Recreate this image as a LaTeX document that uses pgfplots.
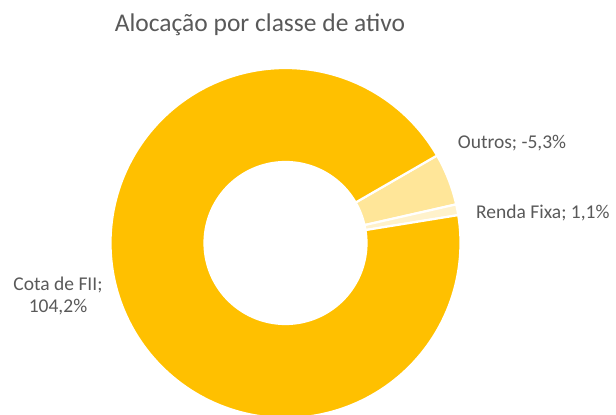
\documentclass[border=0pt]{standalone}
\usepackage{fontspec}
\setmainfont{Carlito}
\usepackage{pgfplots}
\pgfplotsset{compat=1.18}
\definecolor{gold}{HTML}{FFC000}
\definecolor{light}{HTML}{FFE699}
\definecolor{pale}{HTML}{FFF2CC}
\definecolor{txt}{HTML}{595959}
% values shown in the labels (percent)
\def\vCota{104.2}
\def\vOutros{5.3}
\def\vRenda{1.1}
\def\cx{285.5}
\def\cy{172}
\def\Ro{175}
\def\Ri{81}
\pgfmathsetmacro\tot{\vCota+\vOutros+\vRenda}
\pgfmathsetmacro\aA{30}
\pgfmathsetmacro\aB{\aA-360*(\vOutros/\tot)}
\pgfmathsetmacro\aC{\aB-360*(\vRenda/\tot)}
\pgfmathsetmacro\aD{\aC-360*(\vCota/\tot)}
\newcommand\slice[3]{%
  \addplot[fill=#3, draw=white, line width=2.2pt, line join=round, domain=0:2, samples=401, variable=\t]
  ({\cx+ifthenelse(\t<1,\Ro,\Ri)*cos(ifthenelse(\t<1, #1+(#2-#1)*min(\t/0.95,1), #2-(#2-#1)*max((\t-1.05)/0.95,0)))},
   {\cy+ifthenelse(\t<1,\Ro,\Ri)*sin(ifthenelse(\t<1, #1+(#2-#1)*min(\t/0.95,1), #2-(#2-#1)*max((\t-1.05)/0.95,0)))}) -- cycle;
}
\begin{document}
\begin{tikzpicture}
\begin{axis}[
  x=1pt, y=1pt, xmin=0, xmax=616, ymin=0, ymax=415,
  hide axis, clip=true, enlargelimits=false,
  anchor=origin, at={(0,0)},
]
\slice{\aA}{\aB}{light}
\slice{\aB}{\aC}{pale}
\slice{\aC}{\aD}{gold}
\node[txt, font=\fontsize{25.5}{30}\selectfont] at (axis cs:260,390) {Alocação por classe de ativo};
\node[txt, font=\fontsize{19.5}{22}\selectfont] at (axis cs:512,272) {Outros; -5,3\%};
\node[txt, font=\fontsize{19.5}{22}\selectfont, anchor=east] at (axis cs:613,202) {Renda Fixa; 1,1\%};
\node[txt, font=\fontsize{19.5}{22}\selectfont, align=center] at (axis cs:58,119) {Cota de FII;\\104,2\%};
\end{axis}
\pgfresetboundingbox
\useasboundingbox (0,0) rectangle (616pt,415pt);
\end{tikzpicture}
\end{document}
